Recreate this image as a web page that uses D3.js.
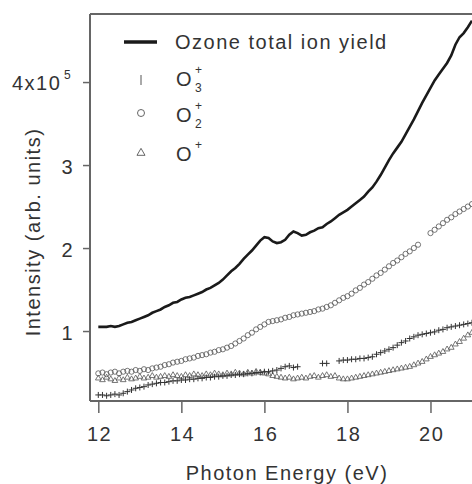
<!DOCTYPE html>
<html lang="en">
<head>
<meta charset="UTF-8">
<title>ozone-ion-yield</title>
<script src="https://cdn.jsdelivr.net/npm/d3@7"></script>
<style>
  body { margin: 0; background: #fff; }
  text { font-family: "Liberation Sans", Arial, sans-serif; fill: #333; letter-spacing: 1.5px; }
</style>
</head>
<body>
<script>
// photon energy grid (eV)
let energy = [12.0,12.1,12.2,12.3,12.4,12.5,12.6,12.7,12.8,12.9,
  13.0,13.1,13.2,13.3,13.4,13.5,13.6,13.7,13.8,13.9,
  14.0,14.1,14.2,14.3,14.4,14.5,14.6,14.7,14.8,14.9,
  15.0,15.1,15.2,15.3,15.4,15.5,15.6,15.7,15.8,15.9,
  16.0,16.1,16.2,16.3,16.4,16.5,16.6,16.7,16.8,16.9,
  17.0,17.1,17.2,17.3,17.4,17.5,17.6,17.7,17.8,17.9,
  18.0,18.1,18.2,18.3,18.4,18.5,18.6,18.7,18.8,18.9,
  19.0,19.1,19.2,19.3,19.4,19.5,19.6,19.7,19.8,19.9,
  20.0,20.1,20.2,20.3,20.4,20.5,20.6,20.7,20.8,20.9,21.0];

// values in units of 1e5
let totalYield = [1.05,1.05,1.05,1.06,1.05,1.06,1.08,1.10,1.11,1.13,
  1.15,1.17,1.19,1.22,1.24,1.26,1.29,1.31,1.34,1.35,
  1.38,1.40,1.41,1.43,1.45,1.47,1.50,1.52,1.55,1.58,
  1.62,1.67,1.72,1.76,1.81,1.87,1.92,1.97,2.03,2.09,
  2.13,2.12,2.08,2.06,2.07,2.10,2.16,2.20,2.18,2.15,
  2.16,2.19,2.21,2.24,2.25,2.29,2.32,2.36,2.40,2.43,
  2.46,2.50,2.54,2.58,2.62,2.68,2.73,2.80,2.88,2.97,
  3.06,3.14,3.21,3.28,3.37,3.46,3.55,3.65,3.75,3.84,
  3.93,4.02,4.09,4.16,4.23,4.32,4.45,4.54,4.59,4.66,4.74];

let o3plus = [0.23,0.23,0.22,0.23,0.24,0.23,0.25,0.27,0.29,0.31,
  0.32,0.33,0.35,0.36,0.37,0.38,0.38,0.39,0.40,0.40,
  0.41,0.41,0.42,0.42,0.43,0.43,0.44,0.44,0.45,0.45,
  0.46,0.46,0.47,0.47,0.48,0.48,0.49,0.49,0.50,0.50,
  0.51,0.51,0.52,0.53,0.55,0.57,0.58,0.56,0.57,null,
  null,null,null,null,0.61,0.61,null,null,0.64,0.65,
  0.65,0.66,0.66,0.67,0.67,0.68,0.69,0.72,0.74,0.76,
  0.78,0.80,0.83,0.86,0.88,0.91,0.93,0.95,0.96,0.97,
  0.98,0.99,1.01,1.02,1.04,1.05,1.06,1.07,1.08,1.09,1.10];

let o2plus = [0.49,0.50,0.48,0.50,0.51,0.49,0.51,0.52,0.51,0.53,
  0.52,0.54,0.53,0.55,0.56,0.57,0.59,0.60,0.62,0.63,
  0.64,0.66,0.67,0.68,0.70,0.71,0.72,0.74,0.75,0.77,
  0.78,0.80,0.82,0.85,0.88,0.91,0.95,0.98,1.02,1.05,
  1.08,1.11,1.12,1.13,1.14,1.16,1.17,1.19,1.20,1.21,
  1.22,1.23,1.24,1.26,1.27,1.29,1.31,1.34,1.37,1.40,
  1.42,1.45,1.49,1.52,1.56,1.59,1.63,1.67,1.70,1.74,
  1.78,1.82,1.85,1.89,1.93,1.96,2.00,2.04,null,null,
  2.18,2.22,2.26,2.30,2.34,2.37,2.41,2.44,2.47,2.50,2.53];

let oplus = [0.43,0.41,0.44,0.42,0.40,0.43,0.41,0.44,0.42,0.43,
  0.45,0.43,0.44,0.46,0.44,0.45,0.46,0.45,0.47,0.46,
  0.45,0.47,0.46,0.48,0.47,0.46,0.48,0.47,0.49,0.48,
  0.47,0.49,0.48,0.50,0.49,0.48,0.50,0.49,0.51,0.50,
  0.49,0.48,0.46,0.45,0.44,0.43,0.44,0.42,0.43,0.44,
  0.43,0.45,0.46,0.44,0.46,0.47,0.45,0.46,0.43,0.42,
  0.42,0.43,0.44,0.45,0.46,0.47,0.48,0.49,0.50,0.51,
  0.52,0.53,0.54,0.55,0.56,0.57,0.59,0.61,0.63,0.66,
  0.69,0.71,0.73,0.75,0.78,0.80,0.84,0.87,0.91,0.95,0.98];

let xTicks = [12, 14, 16, 18, 20];
let yTicks = [1, 2, 3, 4];

let width = 472;
let height = 484;
let plotLeft = 90, plotRight = 472, plotTop = 14, plotBottom = 401;

let svg = d3.select('body')
  .append('svg')
  .attr('width', width)
  .attr('height', height);

let x = d3.scaleLinear().domain([11.8, 21.0]).range([plotLeft, plotRight]);
let y = d3.scaleLinear().domain([0.157, 4.82]).range([plotBottom, plotTop]);

let axisColor = '#666';
let markColor = '#555';

// axes
let xAxis = d3.axisBottom(x).tickValues(xTicks).tickSize(12).tickPadding(14);
let gx = svg.append('g')
  .attr('transform', 'translate(0,' + plotBottom + ')')
  .call(xAxis);
gx.select('.domain').remove();
gx.selectAll('.tick line').attr('stroke', axisColor).attr('stroke-width', 1.5);
gx.selectAll('.tick text')
  .attr('dx', '0.75')
  .style('font-size', '20px')
  .style('font-family', null)
  .style('fill', '#333');

let yAxis = d3.axisLeft(y).tickValues(yTicks).tickSize(7).tickPadding(9)
  .tickFormat(d => d === 4 ? '' : d);
let gy = svg.append('g')
  .attr('transform', 'translate(' + plotLeft + ',0)')
  .call(yAxis);
gy.select('.domain').remove();
gy.selectAll('.tick line').attr('stroke', axisColor).attr('stroke-width', 1.5);
gy.selectAll('.tick text')
  .attr('dy', '0.42em')
  .style('font-size', '20px')
  .style('fill', '#333');
gy.attr('font-family', null);
gx.attr('font-family', null);

// 4x10^5 label
let t4 = svg.append('text')
  .attr('x', 12)
  .attr('y', y(4) + 8)
  .style('font-size', '20px')
  .text('4x10');
svg.append('text')
  .attr('x', 64)
  .attr('y', y(4) - 3)
  .style('font-size', '12px')
  .text('5');

// frame
svg.append('line')
  .attr('x1', plotLeft).attr('x2', plotLeft).attr('y1', plotTop).attr('y2', plotBottom)
  .attr('stroke', axisColor).attr('stroke-width', 2);
svg.append('line')
  .attr('x1', plotLeft).attr('x2', plotRight).attr('y1', plotBottom).attr('y2', plotBottom)
  .attr('stroke', axisColor).attr('stroke-width', 2);
svg.append('line')
  .attr('x1', plotLeft).attr('x2', plotRight).attr('y1', plotTop).attr('y2', plotTop)
  .attr('stroke', axisColor).attr('stroke-width', 2);

// axis titles
svg.append('text')
  .attr('x', 287)
  .attr('y', 480)
  .attr('text-anchor', 'middle')
  .style('font-size', '20px')
  .text('Photon Energy (eV)');

svg.append('text')
  .attr('transform', 'translate(40,232) rotate(-90)')
  .attr('text-anchor', 'middle')
  .style('font-size', '20px')
  .text('Intensity (arb. units)');

let plot = svg.append('g');

function points(vals) {
  return energy.map((e, i) => ({ e: e, v: vals[i] })).filter(d => d.v != null);
}

// O+ triangles
plot.selectAll('path.tri')
  .data(points(oplus))
  .join('path')
  .attr('class', 'tri')
  .attr('d', d3.symbol(d3.symbolTriangle, 14))
  .attr('transform', d => 'translate(' + x(d.e) + ',' + y(d.v) + ')')
  .attr('fill', 'none')
  .attr('stroke', markColor)
  .attr('stroke-width', 0.8);

// O2+ circles
plot.selectAll('circle.o2')
  .data(points(o2plus))
  .join('circle')
  .attr('class', 'o2')
  .attr('cx', d => x(d.e))
  .attr('cy', d => y(d.v))
  .attr('r', 2.6)
  .attr('fill', 'none')
  .attr('stroke', markColor)
  .attr('stroke-width', 0.8);

// O3+ pluses
plot.selectAll('path.plus')
  .data(points(o3plus))
  .join('path')
  .attr('class', 'plus')
  .attr('d', 'M-3,0H3M0,-3V3')
  .attr('transform', d => 'translate(' + x(d.e) + ',' + y(d.v) + ')')
  .attr('fill', 'none')
  .attr('stroke', '#333')
  .attr('stroke-width', 1);

// total ion yield line
let line = d3.line()
  .x((d, i) => x(energy[i]))
  .y(d => y(d));
plot.append('path')
  .datum(totalYield)
  .attr('d', line)
  .attr('fill', 'none')
  .attr('stroke', '#1a1a1a')
  .attr('stroke-width', 2.6);

// legend
let lg = svg.append('g');
lg.append('line')
  .attr('x1', 124).attr('x2', 157).attr('y1', 42).attr('y2', 42)
  .attr('stroke', '#1a1a1a').attr('stroke-width', 3.5);
lg.append('text')
  .attr('x', 175).attr('y', 49)
  .style('font-size', '20px')
  .text('Ozone total ion yield');

lg.append('line')
  .attr('x1', 141).attr('x2', 141).attr('y1', 75).attr('y2', 85)
  .attr('stroke', markColor).attr('stroke-width', 1);
lg.append('circle')
  .attr('cx', 141).attr('cy', 113).attr('r', 3.5)
  .attr('fill', 'none').attr('stroke', markColor).attr('stroke-width', 0.9);
lg.append('path')
  .attr('d', d3.symbol(d3.symbolTriangle, 28))
  .attr('transform', 'translate(141,153)')
  .attr('fill', 'none').attr('stroke', markColor).attr('stroke-width', 0.9);

let ionLabels = [
  { sub: '3', y: 86 },
  { sub: '2', y: 122 },
  { sub: '', y: 161 }
];
ionLabels.forEach(l => {
  lg.append('text').attr('x', 176).attr('y', l.y).style('font-size', '20px').text('O');
  lg.append('text').attr('x', 195).attr('y', l.y - 12).style('font-size', '12px').text('+');
  if (l.sub) {
    lg.append('text').attr('x', 195).attr('y', l.y + 6).style('font-size', '12px').text(l.sub);
  }
});
</script>
</body>
</html>
